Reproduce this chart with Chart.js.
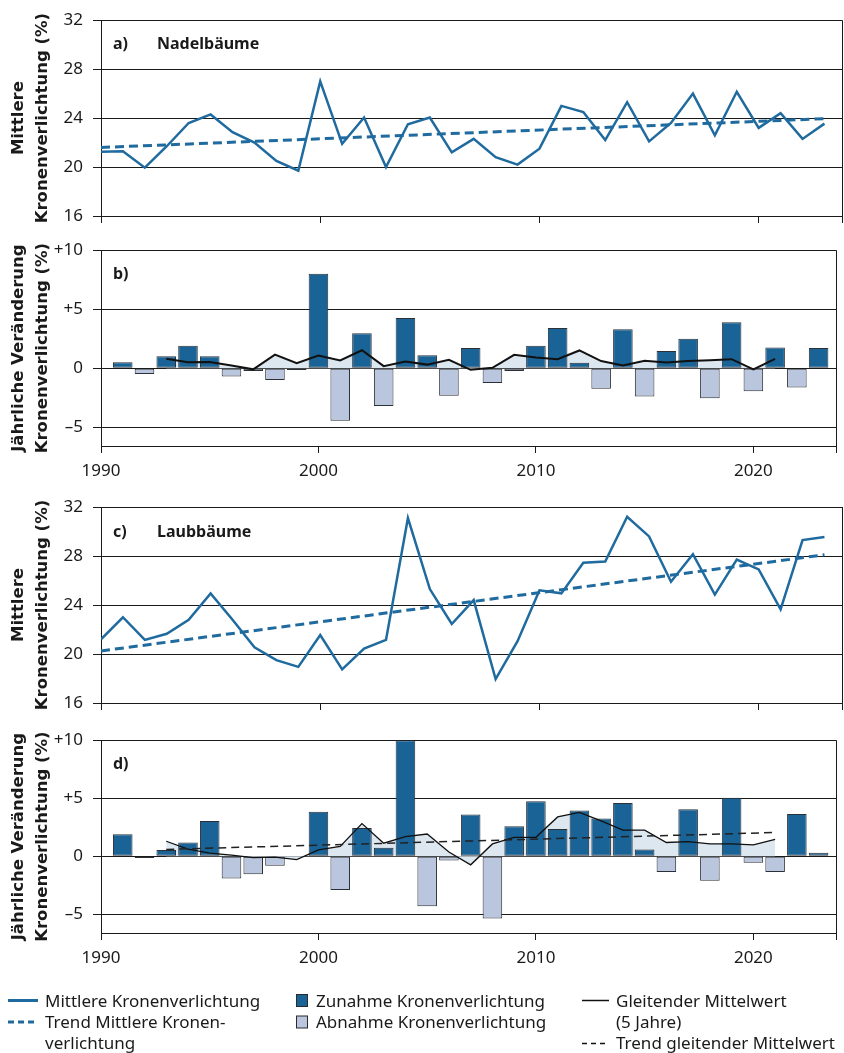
<!DOCTYPE html>
<html>
<head>
<meta charset="utf-8">
<script src="https://cdn.jsdelivr.net/npm/chart.js@4.4.1/dist/chart.umd.min.js"></script>
<style>
  html, body { margin: 0; padding: 0; background: #fff; }
  body { width: 844px; height: 1053px; position: relative; overflow: hidden; font-family: "Noto Sans", sans-serif; color: #1a1a1a; }
  canvas { position: absolute; left: 0; }
  .plab { position: absolute; font-family: "Noto Sans", sans-serif; font-weight: bold; font-size: 16px; line-height: 20px; color: #1a1a1a; }
  .leg { position: absolute; font-size: 17px; line-height: 21px; color: #1a1a1a; white-space: nowrap; }
  .sw { position: absolute; }
</style>
</head>
<body>
<canvas id="ca" width="844" height="237" style="top:0px"></canvas>
<canvas id="cb" width="844" height="250" style="top:230px"></canvas>
<canvas id="cc" width="844" height="244" style="top:480px"></canvas>
<canvas id="cd" width="844" height="250" style="top:720px"></canvas>

<div class="plab" style="left:113px; top:33px">a)</div>
<div class="plab" style="left:157px; top:33px">Nadelbäume</div>
<div class="plab" style="left:113px; top:263px">b)</div>
<div class="plab" style="left:113px; top:521px">c)</div>
<div class="plab" style="left:157px; top:521px">Laubbäume</div>
<div class="plab" style="left:113px; top:753px">d)</div>

<!-- Legend -->
<svg class="sw" style="left:0; top:980px" width="844" height="73">
  <line x1="8" y1="20.5" x2="38" y2="20.5" stroke="#1f6a9e" stroke-width="3"/>
  <line x1="8" y1="42" x2="38" y2="42" stroke="#1f6a9e" stroke-width="3" stroke-dasharray="6,4"/>
  <rect x="296.5" y="14.5" width="11" height="12" fill="#1a6396" stroke="#2a2a2a" stroke-width="1"/>
  <rect x="296.5" y="36" width="11" height="12" fill="#b9c6de" stroke="#2a2a2a" stroke-width="1"/>
  <line x1="582" y1="20.5" x2="609" y2="20.5" stroke="#111" stroke-width="1.5"/>
  <line x1="582" y1="63.5" x2="609" y2="63.5" stroke="#111" stroke-width="1.5" stroke-dasharray="5,4"/>
</svg>
<div class="leg" style="left:45px; top:990px">Mittlere Kronenverlichtung</div>
<div class="leg" style="left:45px; top:1011px">Trend Mittlere Kronen-</div>
<div class="leg" style="left:45px; top:1032px">verlichtung</div>
<div class="leg" style="left:316px; top:990px">Zunahme Kronenverlichtung</div>
<div class="leg" style="left:316px; top:1011px">Abnahme Kronenverlichtung</div>
<div class="leg" style="left:616px; top:990px">Gleitender Mittelwert</div>
<div class="leg" style="left:616px; top:1011px">(5 Jahre)</div>
<div class="leg" style="left:616px; top:1032px">Trend gleitender Mittelwert</div>

<script>
// ---------------- DATA ----------------
const years = [1990,1991,1992,1993,1994,1995,1996,1997,1998,1999,2000,2001,2002,2003,2004,2005,2006,2007,2008,2009,2010,2011,2012,2013,2014,2015,2016,2017,2018,2019,2020,2021,2022,2023];
const changeYears = [1991,1992,1993,1994,1995,1996,1997,1998,1999,2000,2001,2002,2003,2004,2005,2006,2007,2008,2009,2010,2011,2012,2013,2014,2015,2016,2017,2018,2019,2020,2021,2022,2023];
const maYears = [1993,1994,1995,1996,1997,1998,1999,2000,2001,2002,2003,2004,2005,2006,2007,2008,2009,2010,2011,2012,2013,2014,2015,2016,2017,2018,2019,2020,2021];
const trendYears = [1990, 2023];
const maTrendYears = [1993, 2021];

// a) Nadelbäume – mittlere Kronenverlichtung (%)
const nadelMean = [21.25,21.3,19.95,21.7,23.6,24.3,22.85,22.0,20.5,19.7,27.0,21.9,24.05,20.0,23.5,24.05,21.2,22.3,20.8,20.2,21.5,25.0,24.5,22.2,25.3,22.1,23.6,26.0,22.6,26.15,23.2,24.4,22.3,23.55];
const nadelTrend = [21.6, 23.95];
// b) Nadelbäume – jährliche Veränderung
const nadelChange = [0.5,-0.5,1.0,1.9,1.0,-0.7,-0.25,-1.0,-0.15,8.0,-4.45,2.95,-3.2,4.25,1.1,-2.35,1.7,-1.25,-0.25,1.9,3.4,0.45,-1.75,3.3,-2.4,1.45,2.5,-2.55,3.9,-1.95,1.75,-1.65,1.7];
const nadelMA = [0.8,0.5,0.53,0.23,-0.1,1.15,0.42,1.07,0.65,1.52,0.17,0.56,0.3,0.7,-0.14,0.03,1.13,0.9,0.76,1.5,0.6,0.23,0.62,0.48,0.6,0.68,0.76,-0.1,0.79];

// c) Laubbäume – mittlere Kronenverlichtung (%)
const laubMean = [21.2,23.0,21.15,21.65,22.8,24.95,22.8,20.55,19.5,18.95,21.55,18.75,20.45,21.15,31.1,25.3,22.45,24.4,17.95,21.05,25.2,24.95,27.45,27.55,31.2,29.6,25.9,28.15,24.85,27.7,26.9,23.65,29.3,29.55];
const laubTrend = [20.25, 28.1];
// d) Laubbäume – jährliche Veränderung
const laubChange = [1.9,-0.15,0.55,1.2,3.05,-1.9,-1.55,-0.8,null,3.85,-2.9,2.45,0.75,10.0,-4.3,-0.35,3.6,-5.35,2.6,4.75,2.35,3.95,3.25,4.6,0.6,-1.35,4.05,-2.1,5.05,-0.55,-1.35,3.65,0.3];
const laubMA = [1.3,0.62,0.28,0.11,-0.11,-0.06,-0.28,0.56,0.85,2.82,1.13,1.69,1.92,0.37,-0.73,1.07,1.64,1.64,3.39,3.79,3.05,2.26,2.26,1.19,1.27,1.07,1.07,0.99,1.47];
const laubMATrend = [0.6, 2.05];

// ticks
const yearTicks = [1990, 2000, 2010, 2020];
const meanTicks = [16, 20, 24, 28, 32];
const meanTickLabels = ['16', '20', '24', '28', '32'];
const changeTicks = [-5, 0, 5, 10];
const changeTickLabels = ['\u20135', '0', '+5', '+10'];

const meanTitle = ['Mittlere', 'Kronenverlichtung (%)'];
const changeTitle = ['Jährliche Veränderung', 'Kronenverlichtung (%)'];

// ---------------- STYLE ----------------
const X_MIN = 1990, X_MAX = 2023.8;
const BLUE = '#1f6a9e';
const DARK = '#1a6396';
const LIGHT = '#b9c6de';
const FILL = '#dde7f0';
const INK = '#1a1a1a';
const tickFont = { family: 'Noto Sans', size: 17 };

const xy = (xs, ys) => xs.map((x, i) => ({ x: x, y: ys[i] }));

function xScale(showLabels, height) {
  return {
    type: 'linear', min: X_MIN, max: X_MAX, offset: false,
    afterBuildTicks: s => { s.ticks = yearTicks.concat([X_MAX]).map(v => ({ value: v })); },
    ticks: {
      display: showLabels, autoSkip: false, maxRotation: 0, padding: 8,
      font: tickFont, color: INK,
      callback: v => yearTicks.includes(v) ? String(v) : ''
    },
    grid: {
      offset: false, drawOnChartArea: true, drawTicks: true, tickLength: 7,
      color: c => (c.tick && c.tick.value === X_MAX) ? INK : 'rgba(0,0,0,0)',
      tickColor: INK, lineWidth: 1
    },
    border: { display: true, color: INK, width: 1 },
    afterFit: s => { s.height = height; }
  };
}

function yScale(min, max, ticks, labels, title) {
  return {
    min: min, max: max,
    afterBuildTicks: s => { s.ticks = ticks.map(v => ({ value: v })); },
    ticks: {
      font: tickFont, color: INK, padding: 10,
      callback: v => { const i = ticks.indexOf(v); return i >= 0 ? labels[i] : ''; }
    },
    grid: { color: INK, lineWidth: 1, drawTicks: true, tickLength: 8, tickColor: INK },
    border: { display: true, color: INK, width: 1 },
    title: {
      display: true, text: title, color: INK, align: 'center',
      font: { family: 'DejaVu Sans', weight: 'bold', size: 16.5, lineHeight: 24 / 16.5 },
      padding: { top: 7, bottom: 0 }
    },
    afterFit: s => { s.width = 101; }
  };
}

function baseOptions(padTop, x, y) {
  return {
    responsive: false, animation: false, devicePixelRatio: 1,
    layout: { padding: { top: padTop, right: 2, left: 0, bottom: 0 } },
    plugins: { legend: { display: false }, tooltip: { enabled: false } },
    scales: { x: x, y: y }
  };
}

function meanChart(id, meanVals, trendVals, padTop, xH) {
  new Chart(document.getElementById(id), {
    type: 'line',
    data: {
      datasets: [
        { data: xy(trendYears, trendVals), borderColor: BLUE, borderWidth: 3, borderDash: [9, 5], pointRadius: 0, fill: false, order: 2 },
        { data: xy(years, meanVals), borderColor: BLUE, borderWidth: 2.5, pointRadius: 0, tension: 0, fill: false, order: 1 }
      ]
    },
    options: baseOptions(padTop, xScale(false, xH), yScale(16, 32, meanTicks, meanTickLabels, meanTitle))
  });
}

function changeChart(id, changeVals, maVals, maTrendVals, padTop, xH, maWidth) {
  const ds = [
    { type: 'line', data: xy(maYears, maVals), borderWidth: 0, borderColor: 'rgba(0,0,0,0)', backgroundColor: FILL,
      fill: 'origin', pointRadius: 0, tension: 0, order: 5 },
    { type: 'bar', data: xy(changeYears, changeVals),
      backgroundColor: c => (c.raw && c.raw.y < 0) ? LIGHT : DARK,
      borderColor: '#2b2f36', borderWidth: 1, borderSkipped: false,
      barPercentage: 0.9, categoryPercentage: 1.0, order: 4 },
    { type: 'line', data: xy(maYears, maVals), borderColor: '#111', borderWidth: maWidth,
      pointRadius: 0, tension: 0, fill: false, order: 2 }
  ];
  if (maTrendVals) {
    ds.push({ type: 'line', data: xy(maTrendYears, maTrendVals), borderColor: '#222', borderWidth: 1.5,
      borderDash: [8, 5], pointRadius: 0, fill: false, order: 1 });
  }
  new Chart(document.getElementById(id), {
    type: 'bar',
    data: { datasets: ds },
    options: baseOptions(padTop, xScale(true, xH), yScale(-6.6, 10, changeTicks, changeTickLabels, changeTitle))
  });
}

meanChart('ca', nadelMean, nadelTrend, 20, 21);
changeChart('cb', nadelChange, nadelMA, null, 20, 34, 2);
meanChart('cc', laubMean, laubTrend, 27, 21);
changeChart('cd', laubChange, laubMA, laubMATrend, 18, 37, 1.3);
</script>
</body>
</html>
